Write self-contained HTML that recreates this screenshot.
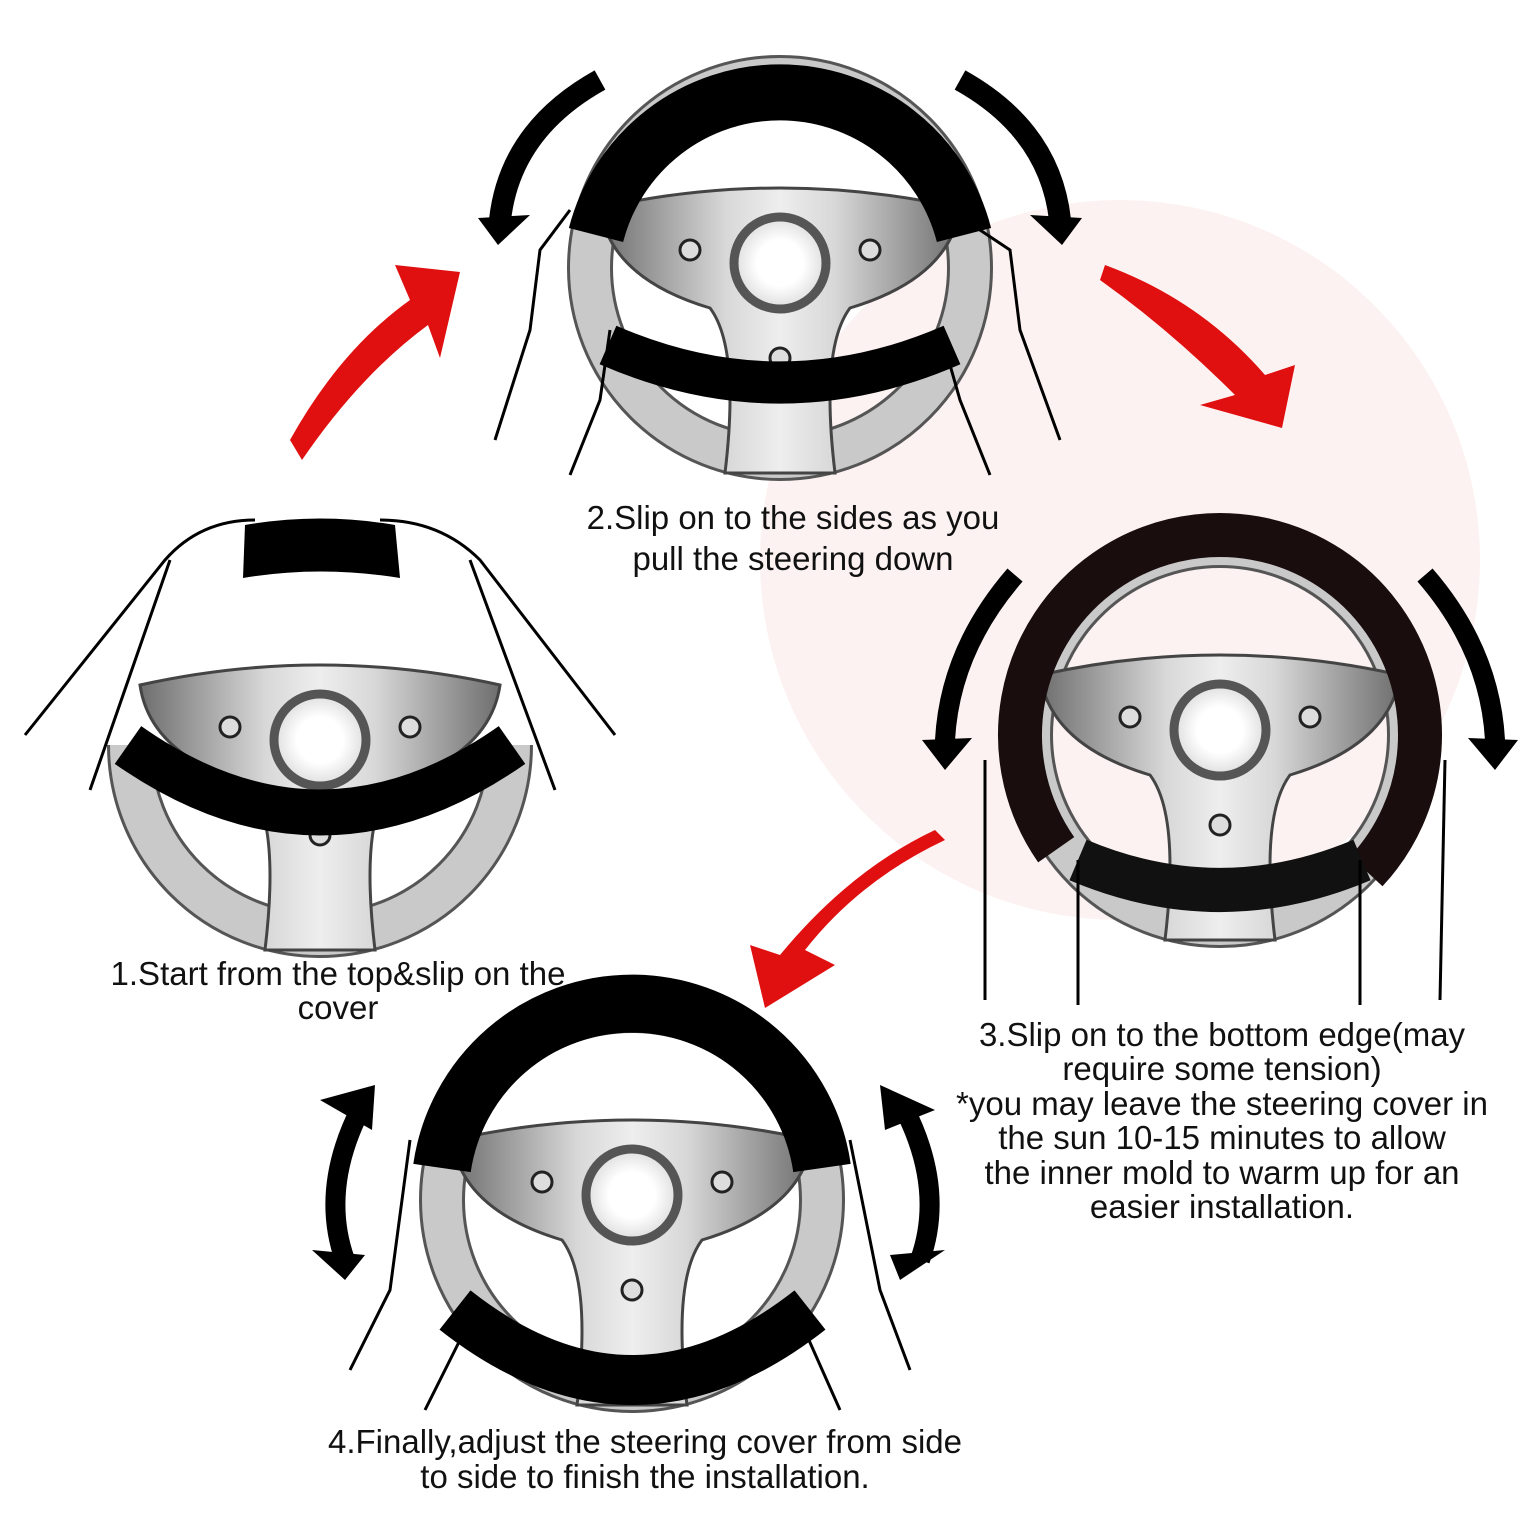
<!DOCTYPE html>
<html><head><meta charset="utf-8"><style>
html,body{margin:0;padding:0;background:#fff;}
svg{display:block}
text{font-family:"Liberation Sans",sans-serif;font-size:33px;fill:#111;text-anchor:middle}
</style></head><body>
<svg width="1540" height="1540" viewBox="0 0 1540 1540" xmlns="http://www.w3.org/2000/svg">
<defs>
<linearGradient id="hub" x1="0" y1="0" x2="1" y2="0">
<stop offset="0" stop-color="#6e6e6e"/><stop offset="0.35" stop-color="#d8d8d8"/><stop offset="0.5" stop-color="#eeeeee"/><stop offset="0.65" stop-color="#d8d8d8"/><stop offset="1" stop-color="#6e6e6e"/>
</linearGradient>
<radialGradient id="ctr"><stop offset="0.5" stop-color="#fff"/><stop offset="1" stop-color="#ddd"/></radialGradient>
<g id="ring">
<circle cx="0" cy="0" r="190" fill="none" stroke="#555" stroke-width="46"/>
<circle cx="0" cy="0" r="190" fill="none" stroke="#c9c9c9" stroke-width="40"/>
</g>
<g id="hubg">
<path d="M-180,-60 Q0,-100 180,-60 Q170,10 70,40 Q40,80 55,205 L-55,205 Q-40,80 -70,40 Q-170,10 -180,-60Z" fill="url(#hub)" stroke="#444" stroke-width="3"/>
<circle cx="0" cy="-5" r="46" fill="url(#ctr)" stroke="#555" stroke-width="9"/>
<circle cx="-90" cy="-18" r="10" fill="#ddd" stroke="#222" stroke-width="3"/>
<circle cx="90" cy="-18" r="10" fill="#ddd" stroke="#222" stroke-width="3"/>
<circle cx="0" cy="90" r="10" fill="#ddd" stroke="#222" stroke-width="3"/>
</g>
<g id="wheel"><use href="#ring"/><use href="#hubg"/></g>
</defs>
<rect width="1540" height="1540" fill="#fff"/>
<circle cx="1120" cy="560" r="360" fill="#fdf2f2"/>

<!-- Wheel 2 -->
<use href="#wheel" transform="translate(780,268)"/>
<path d="M596,235 A190,190 0 0 1 964,235" fill="none" stroke="#000" stroke-width="56"/>
<path d="M608,345 Q780,420 952,345" fill="none" stroke="#000" stroke-width="42"/>
<path d="M600,80 Q510,130 500,220" fill="none" stroke="#000" stroke-width="22"/>
<polygon points="478,218 530,215 498,245"/>
<path d="M960,80 Q1050,130 1060,220" fill="none" stroke="#000" stroke-width="22"/>
<polygon points="1082,218 1030,215 1062,245"/>
<path d="M570,210 L540,250 L530,330 L495,440 M610,330 L600,400 L570,475 M950,210 L1010,250 L1020,330 L1060,440 M940,330 L960,400 L990,475" fill="none" stroke="#000" stroke-width="3"/>

<!-- Wheel 1 -->
<use href="#ring" transform="translate(320,745)"/>
<rect x="90" y="500" width="460" height="245" fill="#fff"/>
<use href="#hubg" transform="translate(320,745)"/>
<path d="M128,745 Q320,880 512,745" fill="none" stroke="#000" stroke-width="46"/>
<path d="M245,525 Q320,512 395,525 L400,578 Q320,565 243,578Z" fill="#000"/>
<path d="M255,520 Q200,520 165,560 L25,735 M380,520 Q440,520 480,560 L615,735 M170,560 L90,790 M470,560 L555,790" fill="none" stroke="#000" stroke-width="3"/>

<!-- Wheel 3 -->
<use href="#wheel" transform="translate(1220,735)"/>
<circle cx="1220" cy="735" r="200" fill="none" stroke="#1a0d0d" stroke-width="44" stroke-dasharray="900 400" transform="rotate(145 1220 735)"/>
<path d="M1078,860 Q1220,920 1362,860" fill="none" stroke="#111" stroke-width="44"/>
<path d="M1015,575 Q950,650 945,740" fill="none" stroke="#000" stroke-width="20"/>
<polygon points="922,740 972,738 945,770"/>
<path d="M1425,575 Q1490,650 1495,740" fill="none" stroke="#000" stroke-width="20"/>
<polygon points="1518,740 1468,738 1495,770"/>
<path d="M985,760 L985,1000 M1078,860 L1078,1005 M1445,760 L1440,1000 M1360,860 L1360,1005" fill="none" stroke="#000" stroke-width="3"/>

<!-- Wheel 4 -->
<use href="#wheel" transform="translate(632,1200)"/>
<path d="M442,1168 A192,192 0 0 1 822,1168" fill="none" stroke="#000" stroke-width="58"/>
<path d="M455,1310 Q632,1450 810,1310" fill="none" stroke="#000" stroke-width="50"/>
<path d="M360,1110 Q320,1190 345,1260" fill="none" stroke="#000" stroke-width="20"/>
<polygon points="320,1100 375,1085 372,1130"/><polygon points="312,1250 365,1255 345,1280"/>
<path d="M905,1110 Q945,1190 920,1260" fill="none" stroke="#000" stroke-width="20"/>
<polygon points="880,1085 935,1110 885,1130"/><polygon points="890,1255 945,1250 900,1280"/>
<path d="M410,1140 L390,1290 L350,1370 M470,1320 L425,1410 M850,1140 L880,1290 L910,1370 M800,1320 L840,1410" fill="none" stroke="#000" stroke-width="3"/>

<!-- Red arrows -->
<path d="M290,440 Q340,350 410,300 L395,265 L460,272 L440,358 L428,325 Q360,375 302,460Z" fill="#e01010"/>
<path d="M1105,265 Q1200,300 1265,375 L1295,365 L1282,428 L1200,405 L1235,395 Q1170,330 1100,280Z" fill="#e01010"/>
<path d="M945,840 Q860,880 805,950 L835,965 L765,1008 L750,945 L780,955 Q850,870 935,830Z" fill="#e01010"/>

<!-- Text -->
<text x="793" y="529">2.Slip on to the sides as you</text>
<text x="793" y="570">pull the steering down</text>
<text x="338" y="985">1.Start from the top&amp;slip on the</text>
<text x="338" y="1019">cover</text>
<text x="1222" y="1046">3.Slip on to the bottom edge(may</text>
<text x="1222" y="1080">require some tension)</text>
<text x="1222" y="1115">*you may leave the steering cover in</text>
<text x="1222" y="1149">the sun 10-15 minutes to allow</text>
<text x="1222" y="1184">the inner mold to warm up for an</text>
<text x="1222" y="1218">easier installation.</text>
<text x="645" y="1453">4.Finally,adjust the steering cover from side</text>
<text x="645" y="1488">to side to finish the installation.</text>
</svg>
</body></html>
